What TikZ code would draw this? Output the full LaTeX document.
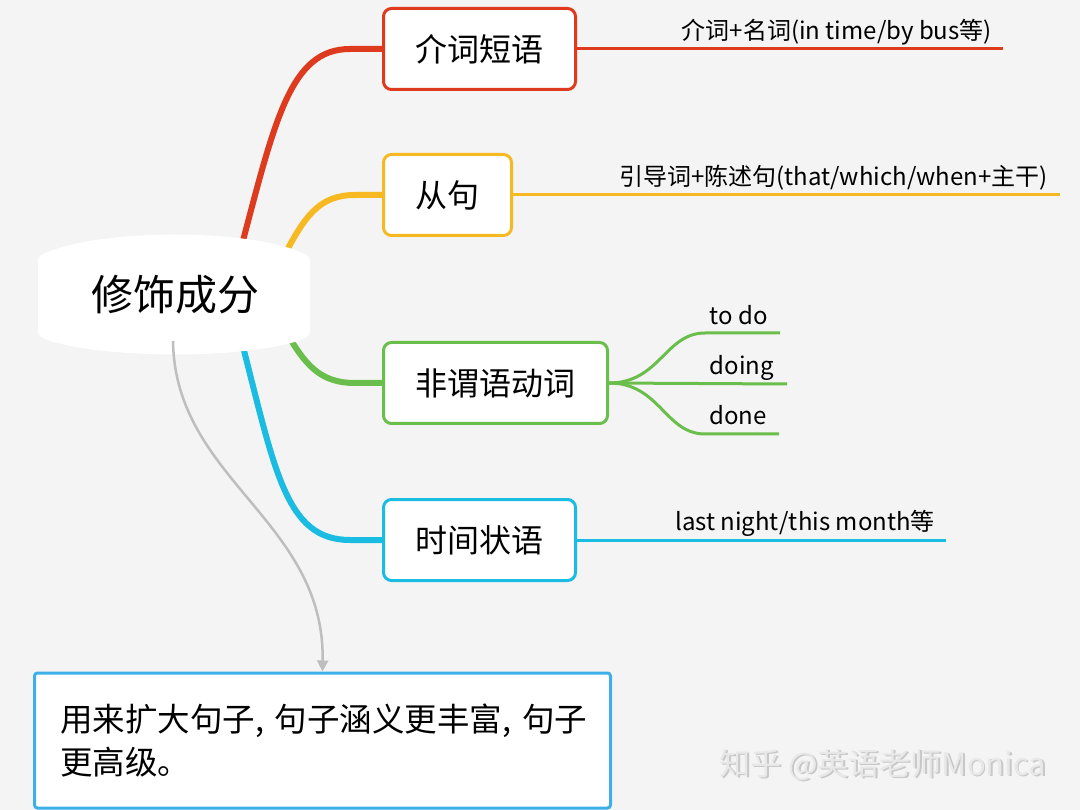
\documentclass[tikz,border=0pt]{standalone}
\usepackage{fontspec}
\setmainfont{Noto Sans CJK SC}
\usetikzlibrary{arrows.meta}
\definecolor{bgc}{RGB}{244,244,244}
\definecolor{redc}{RGB}{222,58,30}
\definecolor{yelc}{RGB}{247,185,34}
\definecolor{grnc}{RGB}{106,190,76}
\definecolor{cyac}{RGB}{27,188,226}
\definecolor{notec}{RGB}{62,176,232}
\definecolor{arrc}{RGB}{190,190,190}
\definecolor{markc}{RGB}{232,232,232}
\definecolor{markshc}{RGB}{200,200,200}
\begin{document}
\begin{tikzpicture}[x=1pt,y=-1pt,
  topic/.style={draw, line width=3pt, fill=white, rounded corners=8pt, minimum height=81pt,
    inner xsep=32pt, anchor=west, font=\fontsize{32}{38}\selectfont},
  leaf/.style={inner sep=0pt, anchor=base east, font=\fontsize{24}{28}\selectfont},
  branch/.style={line width=6pt, line cap=round},
  twig/.style={line width=3pt}]
\fill[bgc] (0,0) rectangle (1080,810);
\useasboundingbox (0,0) rectangle (1080,810);

\node[topic, draw=redc] (prep) at (382,49) {介词短语};
\node[topic, draw=yelc] (clause) at (382,195) {从句};
\node[topic, draw=grnc] (nonfin) at (382,383) {非谓语动词};
\node[topic, draw=cyac] (timeadv) at (382,540) {时间状语};

\coordinate (rred) at (240,252);
\coordinate (ryel) at (283,258);
\coordinate (rgrn) at (285,330);
\coordinate (rcya) at (240,335);
\draw[branch, redc] (rred) .. controls (275,120) and (290,49) .. (350,49) -- (prep.west);
\draw[branch, yelc] (ryel) .. controls (305,215) and (320,195) .. (355,195) -- (clause.west);
\draw[branch, grnc] (rgrn) .. controls (305,365) and (320,383) .. (355,383) -- (nonfin.west);
\draw[branch, cyac] (rcya) .. controls (275,470) and (285,540) .. (350,540) -- (timeadv.west);

% central topic
\fill[white] (38,266) .. controls (38,256) .. (50,251) .. controls (110,229) and (240,229) .. (298,251)
  .. controls (310,256) .. (310,266) -- (310,326) .. controls (310,336) .. (298,341)
  .. controls (240,359) and (110,359) .. (50,341) .. controls (38,336) .. (38,326) -- cycle;
\node[font=\fontsize{42}{48}\selectfont] (root) at (175,295) {修饰成分};

\coordinate (prepe) at (1003,49);
\coordinate (clausee) at (1060,195);
\coordinate (timee) at (946,540);
\draw[twig, redc] (prep.east) -- (prepe);
\draw[twig, yelc] (clause.east) -- (clausee);
\draw[twig, cyac] (timeadv.east) -- (timee);
\node[leaf] (prepl) at (992,40) {介词+名词(in time/by bus等)};
\node[leaf] (clausel) at (1048,186) {引导词+陈述句(that/which/when+主干)};
\node[leaf] (timel) at (935,530) {last night/this month等};

\coordinate (todoe) at (780,333);
\coordinate (doinge) at (787,384);
\coordinate (donee) at (779,434);
\draw[twig, grnc] (nonfin.east) .. controls (660,383) and (665,333) .. (705,333) -- (todoe);
\draw[twig, grnc] (nonfin.east) -- (doinge);
\draw[twig, grnc] (nonfin.east) .. controls (660,383) and (665,434) .. (705,434) -- (donee);
\node[leaf] (todol) at (768,325) {to do};
\node[leaf] (doingl) at (774,375) {doing};
\node[leaf] (donel) at (767,425) {done};

\node[draw=notec, line width=3pt, fill=white, rounded corners=3pt, text width=525pt,
  inner xsep=25.5pt, minimum height=135pt, align=left,
  font=\fontsize{32.5}{43}\selectfont] (note) at (322.5,740.5)
  {用来扩大句子,~句子涵义更丰富,~句子\\更高级。};
\draw[arrc, line width=2.5pt, -{Triangle[width=11pt,length=11pt]}]
  (root.south) ++(-2,23) .. controls (175,480) and (325,520) .. (note.north);

\node[markshc, font=\fontsize{31}{36}\selectfont] (markshadow) at (884.5,766.5) {知乎 @英语老师Monica};
\node[markc, font=\fontsize{31}{36}\selectfont] (mark) at (883,765) {知乎 @英语老师Monica};
\end{tikzpicture}
\end{document}
